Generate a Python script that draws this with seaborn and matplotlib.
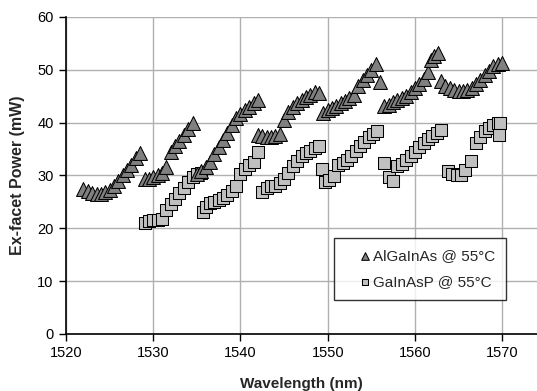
import numpy as np
import pandas as pd
import matplotlib
matplotlib.use("Agg")
import matplotlib.pyplot as plt
import seaborn as sns

# AlGaInAs @ 55°C (triangles)
tri_x = [1522.0, 1522.5, 1523.0, 1523.5, 1524.0, 1524.5, 1525.0, 1525.5, 1526.0, 1526.5, 1527.0, 1527.5, 1528.0, 1528.5,
         1529.0, 1529.5, 1530.0, 1530.5, 1531.0, 1531.5, 1532.0, 1532.5, 1533.0, 1533.5, 1534.0, 1534.5,
         1535.0, 1535.5, 1536.0, 1536.5, 1537.0, 1537.5, 1538.0, 1538.5, 1539.0, 1539.5, 1540.0, 1540.5, 1541.0, 1541.5, 1542.0,
         1542.0, 1542.5, 1543.0, 1543.5, 1544.0, 1544.5,
         1545.0, 1545.5, 1546.0, 1546.5, 1547.0, 1547.5, 1548.0, 1548.5, 1549.0,
         1549.5, 1550.0, 1550.5, 1551.0, 1551.5, 1552.0, 1552.5, 1553.0, 1553.5, 1554.0, 1554.5, 1555.0, 1555.5, 1556.0,
         1556.5, 1557.0, 1557.5, 1558.0, 1558.5, 1559.0, 1559.5, 1560.0, 1560.5, 1561.0, 1561.5, 1561.8, 1562.2, 1562.6,
         1563.0, 1563.5, 1564.0, 1564.5, 1565.0, 1565.5, 1566.0, 1566.5, 1567.0, 1567.5, 1568.0, 1568.5, 1569.0, 1569.5, 1570.0]
tri_y = [27.5, 27.0, 26.6, 26.4, 26.5, 26.8, 27.3, 28.0, 29.0, 30.0, 31.0, 32.0, 33.2, 34.2,
         29.3, 29.3, 29.6, 30.0, 30.5, 31.5, 34.5, 35.5, 36.5, 37.6, 38.8, 40.0,
         30.3, 30.8, 31.5, 32.6, 34.0, 35.3, 36.6, 38.0, 39.5, 40.8, 41.6, 42.3, 43.0, 43.7, 44.3,
         37.7, 37.4, 37.3, 37.3, 37.5, 37.9,
         40.5, 42.0, 43.0, 43.7, 44.3, 44.8, 45.3, 45.8, 45.5,
         41.8, 42.3, 42.8, 43.2, 43.6, 44.0, 44.6, 45.2, 47.0, 48.0, 49.0, 50.0, 51.0, 47.6,
         43.2, 43.4, 43.8, 44.2, 44.6, 45.1, 45.7, 46.5, 47.3, 48.2, 49.5, 51.9, 52.6, 53.2,
         47.8, 47.0, 46.5, 46.2, 46.0, 46.0, 46.2, 46.6, 47.2, 48.0, 49.0, 49.8, 50.6, 51.0, 51.2]

# GaInAsP @ 55°C (squares)
sq_x = [1529.0, 1529.5, 1530.0, 1530.5, 1531.0, 1531.5, 1532.0, 1532.5, 1533.0, 1533.5, 1534.0, 1534.5, 1535.0, 1535.5,
        1535.7, 1536.0, 1536.5, 1537.0, 1537.5, 1538.0, 1538.5, 1539.0, 1539.5, 1540.0, 1540.5, 1541.0, 1541.5, 1542.0,
        1542.5, 1543.0, 1543.5, 1544.0, 1544.5, 1545.0, 1545.5, 1546.0, 1546.5, 1547.0, 1547.5, 1548.0, 1548.5, 1549.0,
        1549.3, 1549.7, 1550.2, 1550.7, 1551.2, 1551.7, 1552.2, 1552.7, 1553.2, 1553.7, 1554.2, 1554.7, 1555.2, 1555.7,
        1556.5, 1557.0, 1557.5, 1558.0, 1558.5, 1559.0, 1559.5, 1560.0, 1560.5, 1561.0, 1561.5, 1562.0, 1562.5, 1563.0,
        1563.8, 1564.3, 1564.8, 1565.3, 1565.8, 1566.4, 1567.0, 1567.5, 1568.0, 1568.5, 1569.0, 1569.5, 1569.8, 1569.6]
sq_y = [21.0, 21.4, 21.6, 21.6, 21.8, 23.5, 24.6, 25.6, 26.6, 27.6, 28.8, 29.6, 30.2, 30.5,
        23.0, 24.0, 24.8, 25.0, 25.3, 25.7, 26.2, 27.0, 28.0, 30.3, 31.2, 32.0, 32.5, 34.4,
        26.8, 27.6, 27.9, 28.0, 28.5, 29.3, 30.5, 31.7, 32.7, 33.6, 34.2, 34.7, 35.2, 35.5,
        31.2, 28.8, 29.2, 29.8, 32.0, 32.4, 33.0, 33.6, 34.6, 35.6, 36.4, 37.2, 37.9, 38.4,
        32.3, 29.7, 29.0, 31.7, 32.2, 32.9, 33.6, 34.5, 35.3, 36.1, 36.8, 37.5, 38.1, 38.6,
        30.8, 30.2, 30.1, 30.1, 31.0, 32.8, 36.1, 37.3, 38.3, 39.0, 39.6, 39.9, 39.9, 37.7]

labels = ["AlGaInAs @ 55°C", "GaInAsP @ 55°C"]
x_ticks = [1520, 1530, 1540, 1550, 1560, 1570]
y_ticks = [0, 10, 20, 30, 40, 50, 60]

sns.set_style("white")
plt.rcParams['font.family'] = ['Liberation Sans', 'DejaVu Sans']

tri_df = pd.DataFrame({"x": tri_x, "y": tri_y})
sq_df = pd.DataFrame({"x": sq_x, "y": sq_y})

fig = plt.figure(figsize=(5.37, 3.91), dpi=100)
ax = fig.add_axes([0.123, 0.146, 0.877, 0.811])

sns.scatterplot(data=sq_df, x="x", y="y", ax=ax, marker="s", s=64, color="#c0c0c0",
                edgecolor="black", linewidth=0.75, label=labels[1], zorder=3)
sns.scatterplot(data=tri_df, x="x", y="y", ax=ax, marker="^", s=100, color="#808080",
                edgecolor="black", linewidth=0.75, label=labels[0], zorder=4)

ax.set_xlim(1520, 1574)
ax.set_ylim(0, 60)
ax.set_xticks(x_ticks)
ax.set_yticks(y_ticks)
ax.grid(True, color="#b0b0b0", linewidth=1.0)
ax.set_axisbelow(True)
for s in ["top", "right"]:
    ax.spines[s].set_visible(False)
for s in ["left", "bottom"]:
    ax.spines[s].set_color("black")
    ax.spines[s].set_linewidth(1.2)
ax.tick_params(axis="both", which="both", direction="out", length=5, width=1,
               labelsize=10.5, colors="black", bottom=True, left=True, pad=4)
ax.set_xlabel("Wavelength (nm)", fontsize=11, fontweight="bold", labelpad=12)
ax.set_ylabel("Ex-facet Power (mW)", fontsize=11.5, fontweight="bold", labelpad=9)

h, l = ax.get_legend_handles_labels()
order = [l.index(labels[0]), l.index(labels[1])]
leg = ax.legend([h[i] for i in order], [l[i] for i in order], loc="lower left",
                bbox_to_anchor=(0.569, 0.107), borderaxespad=0, frameon=True, fancybox=False,
                fontsize=11, markerscale=0.55, handletextpad=-0.75, borderpad=0.7,
                labelspacing=0.8, handlelength=2.6, edgecolor="black")
leg.get_frame().set_linewidth(1.0)

fig.savefig("out.png", dpi=100)
